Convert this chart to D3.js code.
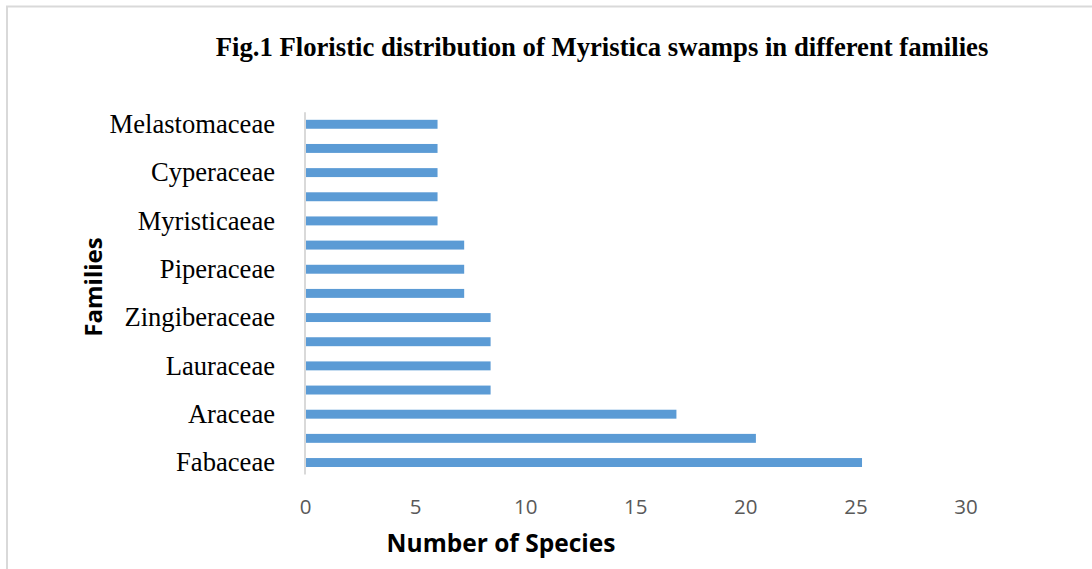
<!DOCTYPE html>
<html>
<head>
<meta charset="utf-8">
<script src="https://cdn.jsdelivr.net/npm/d3@7"></script>
<style>
  body { margin: 0; background: #fff; }
  .ylab { font-family: "Liberation Serif", "Times New Roman", serif; font-size: 26.6px; fill: #000; }
  .xtick { font-family: "Open Sans", "Liberation Sans", sans-serif; font-size: 20.5px; fill: #595959; }
</style>
</head>
<body>
<svg class="chart"></svg>
<script>
// Families, bottom to top (only every other label is shown on the axis)
var families = ["Fabaceae", null, "Araceae", null, "Lauraceae", null, "Zingiberaceae", null,
                "Piperaceae", null, "Myristicaeae", null, "Cyperaceae", null, "Melastomaceae"];
// Number of species
var speciesValues = [25.30, 20.48, 16.87, 8.43, 8.43, 8.43, 8.43, 7.23, 7.23, 7.23, 6.02, 6.02, 6.02, 6.02, 6.02];
var xTicks = [0, 5, 10, 15, 20, 25, 30];

var width = 1092, height = 569;
var plotLeft = 305, plotRight = 965.5, plotTop = 112.2, plotBottom = 474.6;

var chart = d3.select(".chart")
    .attr("width", width)
    .attr("height", height);

// marco del grafico (sale por la derecha y por abajo)
chart.append("rect")
    .attr("x", 7).attr("y", 6.5)
    .attr("width", 1120).attr("height", 600)
    .attr("fill", "none")
    .attr("stroke", "#d9d9d9")
    .attr("stroke-width", 2);

var x = d3.scaleLinear()
    .domain([0, 30])
    .range([plotLeft, plotRight]);

var idx = d3.range(families.length);
var y = d3.scaleBand()
    .domain(idx)
    .range([plotBottom, plotTop])
    .paddingInner(0.63)
    .paddingOuter(0.315);

// barras
chart.selectAll(".bar")
    .data(speciesValues)
    .enter().append("rect")
    .attr("class", "bar")
    .attr("x", x(0))
    .attr("y", function(d, i) { return y(i); })
    .attr("width", function(d) { return x(d) - x(0); })
    .attr("height", y.bandwidth())
    .attr("fill", "#5b9bd5");

// eje Y
var yAxis = d3.axisLeft(y)
    .tickSize(0)
    .tickPadding(30)
    .tickFormat(function(i) { return families[i] || ""; });

var gy = chart.append("g")
    .attr("transform", "translate(" + plotLeft + ",0)")
    .call(yAxis);
gy.select(".domain").attr("stroke", "#d9d9d9").attr("stroke-width", 2)
    .attr("d", "M0," + plotTop + "V" + plotBottom);
gy.selectAll("text").attr("class", "ylab").attr("font-family", null).attr("font-size", null)
    .attr("fill", null).attr("dy", "0.33em");

// eje X (sin linea)
var xAxis = d3.axisBottom(x)
    .tickValues(xTicks)
    .tickSize(0)
    .tickPadding(0);

var gx = chart.append("g")
    .attr("transform", "translate(0," + plotBottom + ")")
    .call(xAxis);
gx.select(".domain").remove();
gx.selectAll("text").attr("class", "xtick").attr("font-family", null).attr("font-size", null)
    .attr("fill", null).attr("dy", null).attr("y", 39);

// titulo
chart.append("text")
    .attr("x", 602)
    .attr("y", 56)
    .attr("text-anchor", "middle")
    .style("font-family", "'Liberation Serif', 'Times New Roman', serif")
    .style("font-weight", "bold")
    .style("font-size", "26.7px")
    .text("Fig.1 Floristic distribution of Myristica swamps in different families");

// titulos de ejes
chart.append("text")
    .attr("x", 501)
    .attr("y", 552)
    .attr("text-anchor", "middle")
    .style("font-family", "'Open Sans', 'Liberation Sans', sans-serif")
    .style("font-weight", "bold")
    .style("font-size", "24.5px")
    .style("fill", "#000")
    .text("Number of Species");

chart.append("text")
    .attr("transform", "translate(102,287) rotate(-90)")
    .attr("text-anchor", "middle")
    .style("font-family", "'Open Sans', 'Liberation Sans', sans-serif")
    .style("font-weight", "bold")
    .style("font-size", "24px")
    .style("fill", "#000")
    .text("Families");
</script>
</body>
</html>
